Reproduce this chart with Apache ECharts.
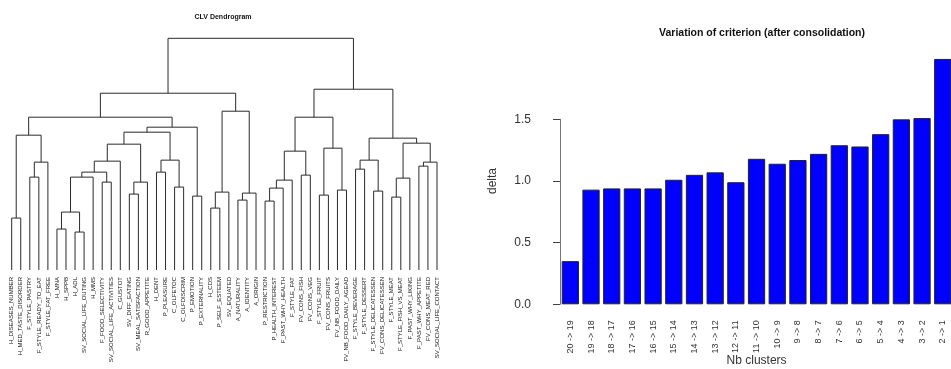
<!DOCTYPE html>
<html>
<head>
<meta charset="utf-8">
<script src="https://cdn.jsdelivr.net/npm/echarts@6/dist/echarts.min.js"></script>
<style>html,body{margin:0;padding:0;background:#fff}#c{width:951px;height:369px}</style>
</head>
<body>
<div id="c"></div>
<script>
// ---- Dendrogram data (hclust-like merge table; negative = leaf, positive = earlier merge) ----
const leafLabels = [
  'H_DISEASES_NUMBER','H_MED_TASTE_DISORDER','F_STYLE_PASTRY','F_STYLE_READY_TO_EAT','F_STYLE_FAT_FREE',
  'H_MNA','H_SPPB','H_ADL','SV_SOCIAL_LIFE_OUTING','H_MMS','F_FOOD_SELECTIVITY','SV_SOCIAL_LIFE_ACTIVITIES',
  'C_GUSTOT','SV_DIFF_EATING','SV_MEAL_SATISFACTION','R_GOOD_APPETITE','H_DENT','P_PLEASURE','C_OLFETOC',
  'C_OLFDISCRIM','P_EMOTION','P_EXTERNALITY','H_CDS','P_SELF_ESTEEM','SV_EQUATED','A_NATURALITY',
  'A_IDENTITY','A_ORIGIN','P_RESTRICTION','P_HEALTH_INTEREST','F_PAST_WHY_HEALTH','F_STYLE_FAT',
  'FV_CONS_FISH','FV_CONS_VEG','F_STYLE_FRUIT','FV_CONS_FRUITS','FV_NB_FOOD_DAILY','FV_NB_FOOD_DAILY_AGEAD',
  'F_STYLE_BEVERAGE','F_STYLE_DESSERT','F_STYLE_DELICATESSEN','FV_CONS_DELICATESSEN','F_STYLE_MEAT',
  'F_STYLE_FISH_VS_MEAT','F_PAST_WHY_LIKING','F_PAST_WHY_APPETITE','FV_CONS_MEAT_RED','SV_SOCIAL_LIFE_CONTACT'
];
const mergeLeft  = [-1,-3,2,1,-6,-8,5,7,-11,8,10,-14,12,11,-17,-19,15,14,-21,18,4,-23,22,-26,24,23,21,-29,28,29,-33,30,-35,-37,33,32,-39,-41,37,-43,40,-46,42,41,39,36,27];
const mergeRight = [-2,-4,-5,3,-7,-9,6,-10,-12,9,-13,-15,-16,13,-18,-20,16,17,-22,19,20,-24,-25,-27,-28,25,26,-30,-31,-32,-34,31,-36,-38,34,35,-40,-42,38,-44,-45,-47,-48,43,44,45,46];
const mergeHeight = [0.52,0.93,1.08,1.35,0.41,0.38,0.58,0.93,0.88,0.98,1.09,0.76,0.88,1.26,0.98,0.83,1.10,1.38,0.74,1.43,1.53,0.62,0.78,0.70,0.77,1.59,1.77,0.69,0.82,0.90,0.95,1.19,0.75,0.80,1.22,1.53,1.01,0.79,1.10,0.73,0.92,1.04,1.08,1.27,1.32,1.81,2.32];

// ---- Bar chart data ----
const clusterSteps = ['20 -> 19','19 -> 18','18 -> 17','17 -> 16','16 -> 15','15 -> 14','14 -> 13','13 -> 12','12 -> 11','11 -> 10','10 -> 9','9 -> 8','8 -> 7','7 -> 6','6 -> 5','5 -> 4','4 -> 3','3 -> 2','2 -> 1'];
const delta = [0.35,0.93,0.94,0.94,0.94,1.01,1.05,1.07,0.99,1.18,1.14,1.17,1.22,1.29,1.28,1.38,1.50,1.51,1.99];
const deltaTicks = [0, 0.5, 1.0, 1.5];

// Build link rows for the custom series: [xLeft, xRight, hLeft, hRight, hMerge]
const nodeX = [], nodeH = [];
function pos(id){ return id < 0 ? [ -id - 1, 0 ] : [ nodeX[id-1], nodeH[id-1] ]; }
const links = mergeLeft.map((l, i) => {
  const a = pos(l), b = pos(mergeRight[i]);
  nodeX[i] = (a[0] + b[0]) / 2; nodeH[i] = mergeHeight[i];
  return [a[0], b[0], a[1], b[1], mergeHeight[i]];
});

const chart = echarts.init(document.getElementById('c'), null, {renderer:'canvas'});
const font = 'Liberation Sans, Arial, sans-serif';
chart.setOption({
  animation: false,
  backgroundColor: '#fff',
  title: [
    { text: 'CLV Dendrogram', left: 218, top: 9, textAlign: 'center',
      textStyle: { fontSize: 7, fontWeight: 'bold', color: '#111', fontFamily: font } },
    { text: 'Variation of criterion (after consolidation)', left: 757, top: 23, textAlign: 'center',
      textStyle: { fontSize: 10.5, fontWeight: 'bold', color: '#111', fontFamily: font } }
  ],
  grid: [
    { left: 11.7, right: 514, top: 38.3, bottom: 99, outerBoundsMode: 'none', containLabel: false },
    { left: 560, right: -2.1, top: 57.7, bottom: 64.7, outerBoundsMode: 'none', containLabel: false },
    { left: 560, right: -2.1, top: 119.3, bottom: 64.7, outerBoundsMode: 'none', containLabel: false }
  ],
  xAxis: [
    { gridIndex: 0, type: 'value', min: 0, max: leafLabels.length - 1, interval: 1,
      axisLine: { show: false }, axisTick: { show: false }, splitLine: { show: false },
      axisLabel: { rotate: 90, margin: 7, fontSize: 6, color: '#111', fontFamily: font,
        showMinLabel: true, showMaxLabel: true,
        formatter: v => leafLabels[v] || '' } },
    { gridIndex: 1, type: 'category', data: clusterSteps,
      axisLine: { show: false }, axisTick: { show: false },
      axisLabel: { rotate: 90, margin: 16, fontSize: 9, color: '#333', fontFamily: font, interval: 0 },
      name: 'Nb clusters', nameLocation: 'middle', nameGap: 50, nameMoveOverlap: false,
      nameTextStyle: { fontSize: 12, color: '#333', fontFamily: font } },
    { gridIndex: 2, type: 'value', show: false, min: 0, max: 1 }
  ],
  yAxis: [
    { gridIndex: 0, type: 'value', min: 0, max: mergeHeight[mergeHeight.length-1], show: false },
    { gridIndex: 1, type: 'value', min: 0, max: 2, splitLine: { show: false },
      axisLine: { show: false }, axisTick: { show: false }, axisLabel: { show: false },
      name: 'delta', nameLocation: 'middle', nameGap: 61, nameMoveOverlap: false,
      nameTextStyle: { fontSize: 12, color: '#333', fontFamily: font } },
    { gridIndex: 2, type: 'value', min: deltaTicks[0], max: deltaTicks[deltaTicks.length-1], interval: 0.5,
      offset: 14, splitLine: { show: false },
      axisLine: { show: true, lineStyle: { color: '#777', width: 1 } },
      axisTick: { show: true, length: 7, lineStyle: { color: '#444' } },
      axisLabel: { margin: 15, fontSize: 12, color: '#333', fontFamily: font, formatter: v => v.toFixed(1) } }
  ],
  series: [
    { type: 'custom', xAxisIndex: 0, yAxisIndex: 0, data: links,
      encode: { x: [0, 1], y: [2, 3, 4] },
      renderItem: (params, api) => {
        const p1 = api.coord([api.value(0), api.value(2)]);
        const p2 = api.coord([api.value(0), api.value(4)]);
        const p3 = api.coord([api.value(1), api.value(4)]);
        const p4 = api.coord([api.value(1), api.value(3)]);
        return { type: 'polyline', shape: { points: [p1, p2, p3, p4] },
          style: { stroke: '#2a2a2a', lineWidth: 1, fill: null } };
      } },
    { type: 'bar', xAxisIndex: 1, yAxisIndex: 1, data: delta, barCategoryGap: '16.7%',
      itemStyle: { color: '#0000ff', borderColor: '#222', borderWidth: 1 } }
  ]
});
</script>
</body>
</html>
